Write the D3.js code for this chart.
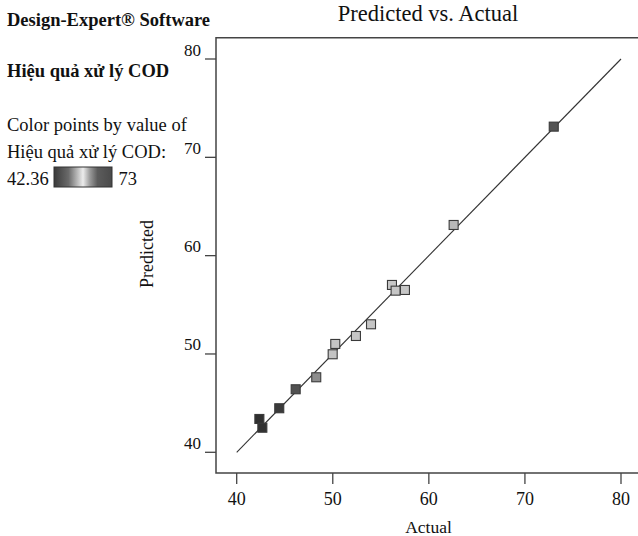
<!DOCTYPE html>
<html>
<head>
<meta charset="utf-8">
<script src="https://cdn.jsdelivr.net/npm/d3@7"></script>
<style>
  html, body { margin: 0; padding: 0; background: #fff; }
  svg { display: block; }
  text { font-family: "Liberation Serif", "Times New Roman", serif; fill: #111; }
</style>
</head>
<body>
<svg id="chart" width="638" height="536"></svg>
<script>
// Observed (actual) and model-predicted COD removal efficiency, %
const actual    = [42.36, 42.67, 44.43, 46.14, 48.28, 49.99, 50.26, 52.41, 53.98, 56.16, 56.54, 57.51, 62.58, 73.0];
const predicted = [43.39, 42.50, 44.48, 46.41, 47.63, 49.97, 51.02, 51.83, 53.02, 57.02, 56.44, 56.51, 63.12, 73.12];

const xTicks = [40, 50, 60, 70, 80];
const yTicks = [40, 50, 60, 70, 80];
const colorRange = [42.36, 73];

(function () {
  const svg = d3.select("#chart");

  // Plot frame edges
  const frameL = 216, frameT = 37.7, frameB = 473, frameR = 640;

  const x = d3.scaleLinear().domain([40, 80]).range([236.7, 621]);
  const y = d3.scaleLinear().domain([40, 80]).range([452.3, 59]);

  // Grey ramp used to shade the points by their actual value
  const shade = d3.scaleLinear()
    .domain([42.36, 44.5, 46.1, 48.3, 50, 57.5, 62.6, 73])
    .range(["#2f2f2f", "#3a3a3a", "#505050", "#8e8e8e", "#c4c4c4", "#c6c6c6", "#b8b8b8", "#545454"]);

  // Frame (right side runs past the edge of the canvas)
  svg.append("path")
    .attr("d", `M${frameR},${frameT}H${frameL}V${frameB}H${frameR}`)
    .attr("fill", "none")
    .attr("stroke", "#444")
    .attr("stroke-width", 1.5);

  // Y axis ticks and labels
  const yAxis = svg.append("g");
  yAxis.selectAll("line").data(yTicks).join("line")
    .attr("x1", 205).attr("x2", frameL)
    .attr("y1", d => y(d)).attr("y2", d => y(d))
    .attr("stroke", "#444").attr("stroke-width", 1.3);
  yAxis.selectAll("text").data(yTicks).join("text")
    .attr("x", 201).attr("y", d => y(d) - 3.5)
    .attr("text-anchor", "end")
    .attr("font-size", 17)
    .text(d => d);

  // X axis ticks and labels
  const xAxis = svg.append("g");
  xAxis.selectAll("line").data(xTicks).join("line")
    .attr("x1", d => x(d)).attr("x2", d => x(d))
    .attr("y1", frameB).attr("y2", 484)
    .attr("stroke", "#444").attr("stroke-width", 1.3);
  xAxis.selectAll("text").data(xTicks).join("text")
    .attr("x", d => x(d)).attr("y", 505)
    .attr("text-anchor", "middle")
    .attr("font-size", 18)
    .text(d => d);

  // Axis titles and chart title
  svg.append("text").attr("x", 428.5).attr("y", 532.5)
    .attr("text-anchor", "middle").attr("font-size", 17.5).text("Actual");
  svg.append("text")
    .attr("transform", "translate(152.5,254) rotate(-90)")
    .attr("text-anchor", "middle").attr("font-size", 18).text("Predicted");
  svg.append("text").attr("x", 428).attr("y", 21)
    .attr("text-anchor", "middle").attr("font-size", 22.5).text("Predicted vs. Actual");

  // Line of perfect agreement
  svg.append("line")
    .attr("x1", x(40)).attr("y1", y(40))
    .attr("x2", x(80)).attr("y2", y(80))
    .attr("stroke", "#333").attr("stroke-width", 1.1);

  // Runs, coloured by actual value
  const pts = actual.map((a, i) => ({ a, p: predicted[i] }));
  const sz = 9;
  svg.append("g").selectAll("rect").data(pts).join("rect")
    .attr("x", d => x(d.a) - sz / 2)
    .attr("y", d => y(d.p) - sz / 2)
    .attr("width", sz).attr("height", sz)
    .attr("fill", d => shade(d.a))
    .attr("stroke", "#3a3a3a")
    .attr("stroke-width", 1.1);

  // Legend block
  svg.append("text").attr("x", 7).attr("y", 26)
    .attr("font-size", 18.5).attr("font-weight", "bold").text("Design-Expert® Software");
  svg.append("text").attr("x", 7).attr("y", 77)
    .attr("font-size", 18.5).attr("font-weight", "bold").text("Hiệu quả xử lý COD");
  svg.append("text").attr("x", 7).attr("y", 131)
    .attr("font-size", 18.5).text("Color points by value of");
  svg.append("text").attr("x", 7).attr("y", 158)
    .attr("font-size", 18.5).text("Hiệu quả xử lý COD:");
  svg.append("text").attr("x", 7).attr("y", 185)
    .attr("font-size", 18.5).text(colorRange[0]);
  svg.append("text").attr("x", 118.5).attr("y", 185)
    .attr("font-size", 18.5).text(colorRange[1]);

  const defs = svg.append("defs");
  const grad = defs.append("linearGradient").attr("id", "ramp");
  [[0, "#3a3a3a"], [0.25, "#6a6a6a"], [0.5, "#ececec"], [0.62, "#9a9a9a"], [0.75, "#5c5c5c"], [1, "#4a4a4a"]]
    .forEach(([o, c]) => grad.append("stop").attr("offset", o).attr("stop-color", c));
  svg.append("rect")
    .attr("x", 54).attr("y", 167).attr("width", 58).attr("height", 20)
    .attr("fill", "url(#ramp)")
    .attr("stroke", "#333").attr("stroke-width", 1);
})();
</script>
</body>
</html>
